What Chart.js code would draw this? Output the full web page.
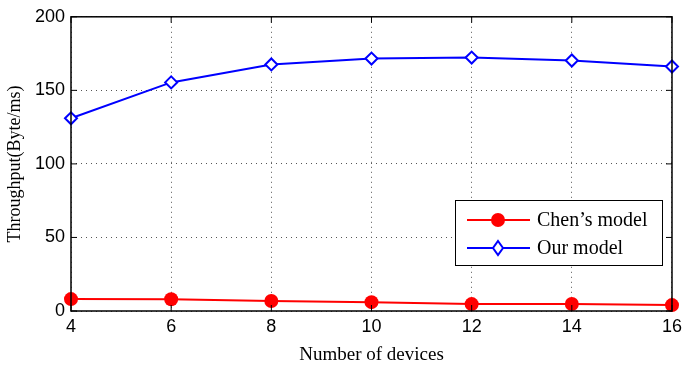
<!DOCTYPE html>
<html>
<head>
<meta charset="utf-8">
<script src="https://cdn.jsdelivr.net/npm/chart.js@4/dist/chart.umd.min.js"></script>
<style>
  html, body { margin: 0; padding: 0; background: #fff; }
  #wrap { width: 687px; height: 370px; }
</style>
</head>
<body>
<div id="wrap"><canvas id="chart" width="687" height="370"></canvas></div>
<script>
'use strict';
var devices = [4, 6, 8, 10, 12, 14, 16];
var chenModel = [8.1, 8.0, 6.8, 6.0, 4.7, 4.8, 4.0];
var ourModel = [131, 155.4, 167.6, 171.6, 172.3, 170.3, 166.2];
var yTicks = [0, 50, 100, 150, 200];
var xTicks = [4, 6, 8, 10, 12, 14, 16];

function toPoints(xs, ys) {
    var pts = [];
    for (let i = 0; i < xs.length; i++) {
        pts.push({ x: xs[i], y: ys[i] });
    }
    return pts;
}

// box around the plot + inward tick marks, like matlab
var boxPlugin = {
    id: 'box',
    afterDraw: function (chart) {
        var ctx = chart.ctx, a = chart.chartArea;
        var xs = chart.scales.x, ys = chart.scales.y;
        ctx.save();
        ctx.strokeStyle = '#000';
        ctx.lineWidth = 1.5;
        ctx.strokeRect(a.left, a.top, a.right - a.left, a.bottom - a.top);
        ctx.lineWidth = 1;
        xTicks.forEach(function (v) {
            var px = xs.getPixelForValue(v);
            ctx.beginPath();
            ctx.moveTo(px, a.bottom); ctx.lineTo(px, a.bottom - 6);
            ctx.moveTo(px, a.top); ctx.lineTo(px, a.top + 6);
            ctx.stroke();
        });
        yTicks.forEach(function (v) {
            var py = ys.getPixelForValue(v);
            ctx.beginPath();
            ctx.moveTo(a.left, py); ctx.lineTo(a.left + 6, py);
            ctx.moveTo(a.right, py); ctx.lineTo(a.right - 6, py);
            ctx.stroke();
        });
        ctx.restore();
    }
};

// legend sitting inside the plot
var legendPlugin = {
    id: 'innerLegend',
    afterDatasetsDraw: function (chart) {
        var ctx = chart.ctx;
        var bx = 455, by = 200, bw = 207, bh = 65;
        ctx.save();
        ctx.fillStyle = '#fff';
        ctx.fillRect(bx, by, bw, bh);
        ctx.strokeStyle = '#000';
        ctx.lineWidth = 1;
        ctx.strokeRect(bx + 0.5, by + 0.5, bw, bh);
        var rows = [
            { text: 'Chen\u2019s model', color: '#ff0000', style: 'circle', y: 220 },
            { text: 'Our model', color: '#0000ff', style: 'diamond', y: 248 }
        ];
        rows.forEach(function (r) {
            ctx.strokeStyle = r.color;
            ctx.lineWidth = 2;
            ctx.beginPath();
            ctx.moveTo(467, r.y); ctx.lineTo(530, r.y);
            ctx.stroke();
            if (r.style === 'circle') {
                ctx.fillStyle = r.color;
                ctx.beginPath();
                ctx.arc(498, r.y, 7, 0, Math.PI * 2);
                ctx.fill();
            } else {
                ctx.fillStyle = '#fff';
                ctx.beginPath();
                ctx.moveTo(498, r.y - 7); ctx.lineTo(503, r.y);
                ctx.lineTo(498, r.y + 7); ctx.lineTo(493, r.y);
                ctx.closePath();
                ctx.fill(); ctx.stroke();
            }
            ctx.fillStyle = '#000';
            ctx.font = '20px "Liberation Serif"';
            ctx.textBaseline = 'middle';
            ctx.fillText(r.text, 537, r.y + 1);
        });
        ctx.restore();
    }
};

var ctx = document.getElementById('chart').getContext('2d');
var myChart = new Chart(ctx, {
    type: 'line',
    data: {
        datasets: [{
            label: 'Chen\u2019s model',
            data: toPoints(devices, chenModel),
            borderColor: '#ff0000',
            backgroundColor: '#ff0000',
            borderWidth: 2,
            pointStyle: 'circle',
            pointRadius: 7,
            pointBorderWidth: 0,
            tension: 0
        }, {
            label: 'Our model',
            data: toPoints(devices, ourModel),
            borderColor: '#0000ff',
            backgroundColor: '#ffffff',
            borderWidth: 2,
            pointStyle: 'rectRot',
            pointRadius: 6,
            pointBorderWidth: 2,
            tension: 0
        }]
    },
    options: {
        responsive: false,
        animation: false,
        clip: false,
        layout: { padding: { top: 15, right: 10, left: 0, bottom: 0 } },
        plugins: { legend: { display: false }, tooltip: { enabled: false } },
        scales: {
            x: {
                type: 'linear',
                min: 4, max: 16,
                afterBuildTicks: function (s) { s.ticks = xTicks.map(function (v) { return { value: v }; }); },
                afterFit: function (s) { s.height = 59; },
                grid: { color: '#555', lineWidth: 1, drawTicks: false },
                border: { display: false, dash: [1, 4] },
                ticks: { color: '#000', padding: 5, font: { family: '"Liberation Sans"', size: 18 }, maxRotation: 0 },
                title: { display: true, text: 'Number of devices', color: '#000', padding: { top: 8 }, font: { family: '"Liberation Serif"', size: 19 } }
            },
            y: {
                min: 0, max: 200,
                afterBuildTicks: function (s) { s.ticks = yTicks.map(function (v) { return { value: v }; }); },
                afterFit: function (s) { s.width = 71; },
                grid: { color: '#555', lineWidth: 1, drawTicks: false },
                border: { display: false, dash: [1, 4] },
                ticks: { color: '#000', padding: 6, font: { family: '"Liberation Sans"', size: 18 } },
                title: { display: true, text: 'Throughput(Byte/ms)', color: '#000', padding: { bottom: 6 }, font: { family: '"Liberation Serif"', size: 18 } }
            }
        }
    },
    plugins: [boxPlugin, legendPlugin]
});
</script>
</body>
</html>
